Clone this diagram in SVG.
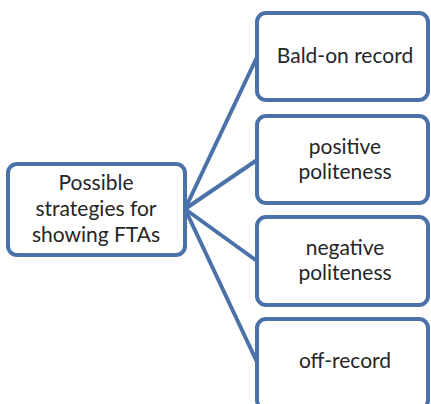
<svg xmlns="http://www.w3.org/2000/svg" width="431" height="404" viewBox="0 0 431 404">
<style>
.box{fill:#ffffff;stroke:#4a72a9;stroke-width:4}
.con{stroke:#4a72a9;stroke-width:4;fill:none}
text{font-family:Lato,"Open Sans",sans-serif;font-size:21px;fill:#262626;text-anchor:middle}
</style>
<rect width="431" height="404" fill="#ffffff"/>
<g id="connectors">
<line class="con" x1="185" y1="209" x2="257" y2="57"/>
<line class="con" x1="185" y1="209" x2="257" y2="160"/>
<line class="con" x1="185" y1="209" x2="257" y2="261"/>
<line class="con" x1="185" y1="209" x2="257" y2="362"/>
</g>
<g id="root">
<rect class="box" x="8" y="164" width="177" height="91" rx="9"/>
<text x="96" y="190">Possible</text>
<text x="96" y="216">strategies for</text>
<text x="96" y="242">showing FTAs</text>
</g>
<g id="bald-on">
<rect class="box" x="257" y="13" width="171" height="87" rx="9"/>
<text x="345" y="63">Bald-on record</text>
</g>
<g id="positive">
<rect class="box" x="257" y="116" width="171" height="87" rx="9"/>
<text x="345" y="154">positive</text>
<text x="345" y="179">politeness</text>
</g>
<g id="negative">
<rect class="box" x="257" y="217" width="171" height="88" rx="9"/>
<text x="345" y="255">negative</text>
<text x="345" y="280">politeness</text>
</g>
<g id="off-record">
<rect class="box" x="257" y="319" width="171" height="90" rx="9"/>
<text x="345" y="368">off-record</text>
</g>
</svg>
